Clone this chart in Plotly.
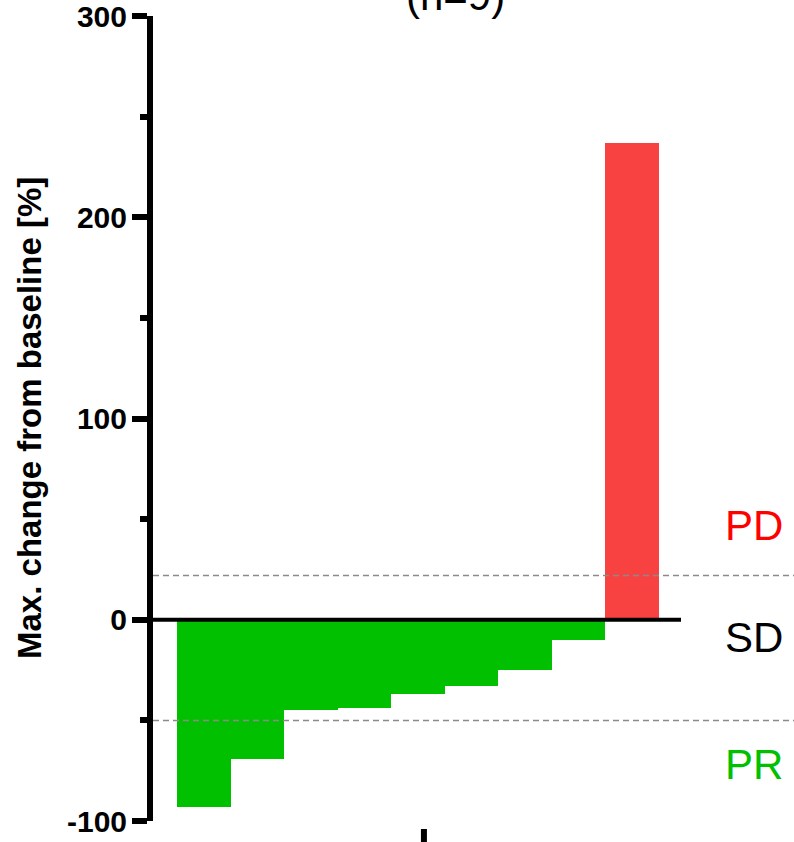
import plotly.graph_objects as go

# ---- data ----
patients = ["P1", "P2", "P3", "P4", "P5", "P6", "P7", "P8", "P9"]
max_change = [-93, -69, -45, -44, -37, -33, -25, -10, 237]
thresholds = [22, -50]          # PD / PR cut-offs (dashed lines)
y_ticks = [-100, 0, 100, 200, 300]
y_tick_labels = ["-100", "0", "100", "200", "300"]
zones = ["PD", "SD", "PR"]
zone_y = [47, -9, -72]
zone_colors = ["#ff0000", "#000000", "#00c000"]

GREEN = "#00c000"
RED = "#f84242"
FONT = "Liberation Sans, Arial, sans-serif"

x_idx = list(range(len(patients)))
bar_colors = [RED if v > 0 else GREEN for v in max_change]

XMIN, XMAX = -0.949, 11.02
L = 153
PW = 794 - L  # plot width in px

fig = go.Figure()
fig.add_trace(go.Bar(
    x=x_idx, y=max_change, marker=dict(color=bar_colors, line=dict(width=0)),
    width=1.0, showlegend=False, hoverinfo="x+y",
))

# zero line
fig.add_shape(type="line", xref="x", yref="y", x0=XMIN, x1=8.91, y0=0, y1=0,
              line=dict(color="black", width=4), layer="above")
# threshold dashed lines
for t in thresholds:
    fig.add_shape(type="line", xref="paper", yref="y", x0=0, x1=1, y0=t, y1=t,
                  line=dict(color="#8a8a8a", width=1.5, dash="6px,4px"), layer="above")
# lone x-axis tick at bottom
fig.add_shape(type="line", xref="x", yref="paper", x0=4.11, x1=4.11,
              y0=-0.0099, y1=-0.03, line=dict(color="black", width=6))

# zone labels
for lab, yv, col in zip(zones, zone_y, zone_colors):
    fig.add_annotation(text=lab, xref="paper", yref="y", x=(754 - L) / PW, y=yv,
                       xanchor="center", yanchor="middle", showarrow=False,
                       font=dict(family=FONT, size=42, color=col))

# cut-off title
fig.add_annotation(text="(n=9)", xref="paper", yref="paper",
                   x=(455 - L) / PW, y=1.026, xanchor="center", yanchor="middle",
                   showarrow=False, font=dict(family=FONT, size=42, color="black"))

# y-axis title
fig.add_annotation(text="<b>Max. change from baseline [%]</b>", xref="paper", yref="paper",
                   x=(29.5 - L) / PW, y=0.5, xanchor="center", yanchor="middle",
                   textangle=-90, showarrow=False,
                   font=dict(family=FONT, size=33, color="black"))

fig.update_layout(
    width=794, height=842,
    margin=dict(l=L, r=0, t=16, b=21),
    plot_bgcolor="white", paper_bgcolor="white",
    bargap=0,
    xaxis=dict(range=[XMIN, XMAX], showgrid=False, zeroline=False, showline=False,
               showticklabels=False, ticks=""),
    yaxis=dict(range=[-100, 300], tickvals=y_ticks, ticktext=y_tick_labels,
               showgrid=False, zeroline=False, showline=True, linecolor="black",
               linewidth=6, ticks="outside", ticklen=15, tickwidth=6, tickcolor="black",
               ticklabelstandoff=-1, ticklabeloverflow="allow",
               tickfont=dict(family=FONT, size=30, color="black", weight="bold"),
               minor=dict(ticks="outside", dtick=50, tick0=0, ticklen=7, tickwidth=6,
                          tickcolor="black", showgrid=False)),
)

fig.write_html(
    "out.html",
    config={"displayModeBar": False},
    post_script="document.body.style.margin='0';document.body.style.padding='0';",
)
